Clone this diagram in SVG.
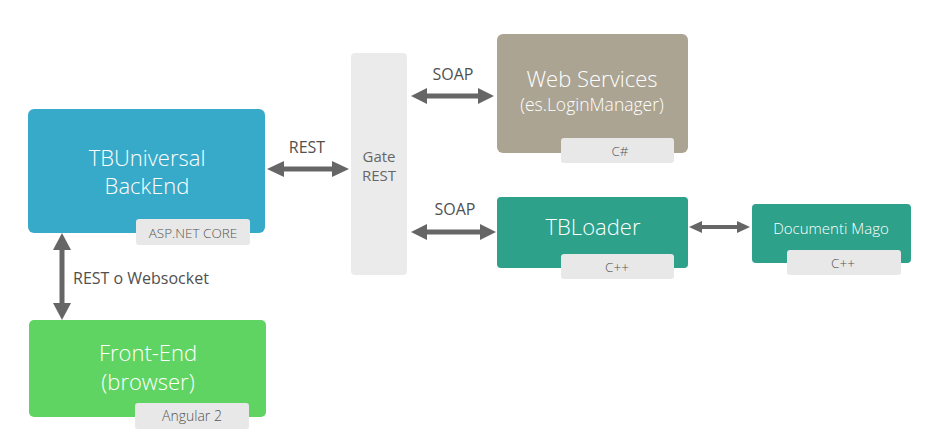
<svg xmlns="http://www.w3.org/2000/svg" width="934" height="446" viewBox="0 0 934 446">
<style>
  .title { font-family: "Open Sans", "Noto Sans", sans-serif; font-weight: 300; fill: #ffffff; text-anchor: middle; }
  .tag { fill: #e8e8e8; }
  .tagtext { font-family: "Open Sans", "Noto Sans", sans-serif; font-weight: 300; font-size: 13.5px; fill: #555555; text-anchor: middle; }
  .lbl { font-family: "Open Sans", "Noto Sans", sans-serif; font-size: 16px; font-weight: 400; fill: #505050; text-anchor: middle; }
  .arr { fill: #666666; }
  .shaft { stroke: #666666; stroke-width: 5; }
</style>
<rect width="934" height="446" fill="#ffffff"/>

<g id="connectors">
  <g id="c-rest">
    <line class="shaft" x1="280" y1="169" x2="336" y2="169"/>
    <polygon class="arr" points="267,169 284,161 284,177"/>
    <polygon class="arr" points="349,169 332,161 332,177"/>
    <text class="lbl" x="307" y="153">REST</text>
  </g>
  <g id="c-soap1">
    <line class="shaft" x1="424" y1="96" x2="481" y2="96"/>
    <polygon class="arr" points="411,96 427,88 427,104"/>
    <polygon class="arr" points="494,96 478,88 478,104"/>
    <text class="lbl" x="453" y="80">SOAP</text>
  </g>
  <g id="c-soap2">
    <line class="shaft" x1="424" y1="232" x2="482" y2="232"/>
    <polygon class="arr" points="411,232 427,224 427,240"/>
    <polygon class="arr" points="496,232 480,224 480,240"/>
    <text class="lbl" x="455" y="215">SOAP</text>
  </g>
  <g id="c-doc">
    <line class="shaft" x1="698" y1="227" x2="740" y2="227" style="stroke-width:4"/>
    <polygon class="arr" points="689,227 702,221 702,233"/>
    <polygon class="arr" points="750,227 737,221 737,233"/>
  </g>
  <g id="c-ws">
    <line class="shaft" x1="62" y1="246" x2="62" y2="307"/>
    <polygon class="arr" points="62,233 53,250 71,250"/>
    <polygon class="arr" points="62,320 53,303 71,303"/>
    <text class="lbl" x="73" y="284" style="text-anchor:start">REST o Websocket</text>
  </g>
</g>

<g id="tbuniversal">
  <rect x="28" y="109" width="237" height="124" rx="6" fill="#38aac9"/>
  <text class="title" x="147" y="166" font-size="22">TBUniversal</text>
  <text class="title" x="147" y="194" font-size="22">BackEnd</text>
  <rect class="tag" x="136" y="219" width="114" height="26" rx="3"/>
  <text class="tagtext" x="193" y="238">ASP.NET CORE</text>
</g>

<g id="gate">
  <rect x="351" y="53" width="56" height="222" rx="4" fill="#ebebeb"/>
  <text class="lbl" x="379" y="162" style="font-size:15px;fill:#666666">Gate</text>
  <text class="lbl" x="379" y="181" style="font-size:15px;fill:#666666">REST</text>
</g>

<g id="webservices">
  <rect x="497" y="34" width="191" height="119" rx="6" fill="#aba493"/>
  <text class="title" x="592" y="87" font-size="22">Web Services</text>
  <text class="title" x="592" y="111" font-size="17.5">(es.LoginManager)</text>
  <rect class="tag" x="561" y="138" width="113" height="25" rx="3"/>
  <text class="tagtext" x="620" y="156">C#</text>
</g>

<g id="tbloader">
  <rect x="497" y="197" width="191" height="71" rx="4" fill="#2da18a"/>
  <text class="title" x="593" y="235" font-size="22">TBLoader</text>
  <rect class="tag" x="561" y="254" width="113" height="25" rx="3"/>
  <text class="tagtext" x="617" y="272">C++</text>
</g>

<g id="documenti">
  <rect x="752" y="204" width="159" height="59" rx="4" fill="#2da18a"/>
  <text class="title" x="831" y="234" font-size="15">Documenti Mago</text>
  <rect class="tag" x="787" y="250" width="114" height="25" rx="3"/>
  <text class="tagtext" x="843" y="268">C++</text>
</g>

<g id="frontend">
  <rect x="29" y="320" width="237" height="97" rx="5" fill="#5fd463"/>
  <text class="title" x="148" y="361" font-size="22">Front-End</text>
  <text class="title" x="148" y="390" font-size="22">(browser)</text>
  <rect class="tag" x="135" y="403" width="114" height="26" rx="3"/>
  <text class="tagtext" x="192" y="421" style="font-size:14px">Angular 2</text>
</g>
</svg>
